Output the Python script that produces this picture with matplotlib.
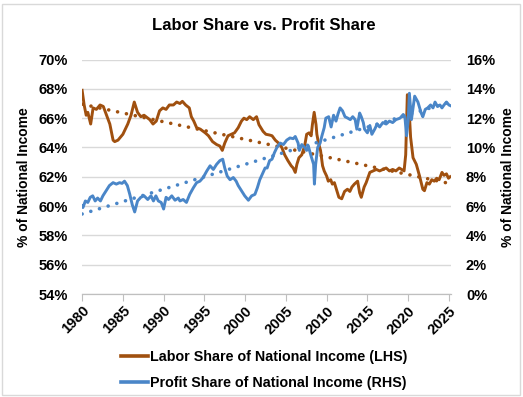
import matplotlib
matplotlib.use("Agg")
import matplotlib.pyplot as plt
import numpy as np
from matplotlib.lines import Line2D
from matplotlib.patches import Rectangle
from matplotlib.ticker import FuncFormatter

plt.rcParams["font.family"] = ["Liberation Sans", "DejaVu Sans"]
plt.rcParams["font.weight"] = "bold"

BROWN = "#A0500F"
BLUE = "#4A86C8"
GRID = "#D9D9D9"

# labor share of national income, % (left axis)
labor_years = [
    1980.0, 1980.25, 1980.5, 1980.7, 1981.05, 1981.35, 1981.75, 1982.2, 1982.6, 1983.0,
    1983.4, 1983.8, 1984.0, 1984.4, 1985.0, 1985.6, 1986.0, 1986.4, 1986.8, 1987.2,
    1987.6, 1988.3, 1988.7, 1989.1, 1989.5, 1989.9, 1990.3, 1990.7, 1991.2, 1991.6,
    1992.0, 1992.3, 1992.7, 1993.15, 1993.4, 1993.7, 1994.05, 1994.5, 1995.1, 1995.5,
    1996.0, 1996.5, 1996.9, 1997.2, 1997.5, 1997.9, 1998.3, 1998.7, 1999.15, 1999.55,
    1999.85, 2000.2, 2000.55, 2001.0, 2001.4, 2001.7, 2002.2, 2002.55, 2003.0, 2003.3,
    2003.7, 2004.1, 2004.5, 2004.85, 2005.25, 2005.65, 2005.9, 2006.15, 2006.35, 2006.6,
    2006.95, 2007.3, 2007.55, 2007.85, 2008.1, 2008.25, 2008.47, 2008.7, 2008.8, 2009.0,
    2009.25, 2009.5, 2009.7, 2010.0, 2010.2, 2010.5, 2010.7, 2010.95, 2011.2, 2011.5,
    2011.85, 2012.2, 2012.55, 2012.85, 2013.1, 2013.4, 2013.8, 2014.05, 2014.25, 2014.6,
    2014.85, 2015.3, 2015.7, 2016.1, 2016.5, 2016.9, 2017.3, 2017.7, 2018.1, 2018.5,
    2018.9, 2019.2, 2019.5, 2019.7, 2019.9, 2020.05, 2020.3, 2020.6, 2021.0, 2021.4,
    2021.8, 2022.0, 2022.3, 2022.6, 2022.9, 2023.2, 2023.5, 2023.8, 2024.15, 2024.4,
    2024.7, 2024.95, 2025.15,
]
labor_share = [
    67.9, 66.9, 66.2, 66.4, 65.6, 66.7, 66.6, 66.9, 66.8, 66.2,
    65.6, 64.5, 64.4, 64.5, 64.9, 65.6, 66.2, 67.1, 66.4, 66.1,
    66.2, 65.9, 65.6, 65.8, 66.5, 66.7, 66.6, 66.9, 66.9, 67.1,
    67.0, 67.15, 66.9, 66.7, 66.1, 65.8, 65.35, 65.25, 65.0, 64.8,
    64.4, 64.2, 64.1, 63.8, 64.3, 64.8, 64.9, 65.0, 65.35, 65.8,
    66.0, 65.9, 66.1, 65.9, 66.1, 65.55, 65.1, 64.9, 64.85, 64.8,
    64.5, 64.3, 64.0, 63.5, 63.1, 62.75, 62.6, 62.3, 62.85, 63.3,
    63.5, 64.1, 64.9, 65.0, 64.8, 65.55, 66.4, 65.55, 64.9, 64.3,
    63.8, 62.75, 62.4, 62.05, 61.7, 61.8, 61.5, 61.6, 61.15, 60.6,
    60.5, 61.0, 61.15, 61.0, 61.3, 61.5, 61.7, 60.9, 60.6, 61.3,
    61.6, 62.3, 62.4, 62.5, 62.4, 62.5, 62.6, 62.4, 62.5, 62.4,
    62.6, 62.5, 62.4, 63.5, 67.6, 67.3, 64.7, 63.3, 62.85, 62.05,
    61.15, 61.05, 61.6, 61.5, 61.8, 61.7, 61.9, 61.8, 62.3, 62.1,
    62.2, 61.9, 62.0,
]

# profit share of national income, % (right axis)
profit_years = [
    1980.0, 1980.1, 1980.4, 1980.7, 1981.0, 1981.3, 1981.6, 1981.9, 1982.25, 1982.55,
    1982.95, 1983.35, 1983.8, 1984.2, 1984.6, 1984.9, 1985.2, 1985.55, 1985.85, 1986.15,
    1986.45, 1986.8, 1987.2, 1987.6, 1988.05, 1988.45, 1988.75, 1989.05, 1989.35, 1989.7,
    1990.0, 1990.3, 1990.6, 1991.0, 1991.4, 1991.8, 1992.0, 1992.4, 1992.8, 1993.2,
    1993.65, 1994.05, 1994.45, 1994.85, 1995.3, 1995.7, 1996.1, 1996.5, 1996.9, 1997.25,
    1997.5, 1997.8, 1998.15, 1998.55, 1998.9, 1999.15, 1999.55, 1999.95, 2000.4, 2000.8,
    2001.2, 2001.5, 2001.8, 2002.2, 2002.45, 2002.7, 2003.0, 2003.3, 2003.6, 2003.9,
    2004.3, 2004.7, 2005.1, 2005.5, 2005.9, 2006.15, 2006.5, 2006.65, 2006.95, 2007.3,
    2007.55, 2007.75, 2008.1, 2008.4, 2008.5, 2008.65, 2008.9, 2009.2, 2009.4, 2009.7,
    2009.9, 2010.25, 2010.55, 2010.85, 2011.15, 2011.4, 2011.65, 2011.95, 2012.25, 2012.6,
    2012.9, 2013.2, 2013.5, 2013.7, 2014.05, 2014.25, 2014.5, 2014.65, 2015.0, 2015.3,
    2015.55, 2015.9, 2016.2, 2016.5, 2016.9, 2017.3, 2017.7, 2018.1, 2018.5, 2019.0,
    2019.4, 2019.6, 2019.8, 2020.0, 2020.15, 2020.4, 2020.8, 2021.2, 2021.6, 2021.8,
    2022.1, 2022.4, 2022.75, 2023.05, 2023.3, 2023.6, 2023.9, 2024.15, 2024.4, 2024.7,
    2025.0, 2025.2,
]
profit_share = [
    6.0, 5.9, 6.35, 6.25, 6.6, 6.7, 6.35, 6.55, 6.35, 6.7,
    7.05, 7.4, 7.6, 7.5, 7.6, 7.55, 7.7, 7.4, 6.8, 6.1,
    5.6, 6.35, 6.6, 6.7, 6.45, 6.7, 6.35, 6.7, 6.35, 6.25,
    5.8, 6.6, 6.45, 6.7, 6.4, 6.55, 6.35, 6.45, 6.25, 6.8,
    7.25, 7.6, 7.7, 7.95, 8.4, 8.75, 8.5, 8.85, 9.1, 9.2,
    8.6, 8.05, 7.8, 7.95, 7.7, 7.4, 7.05, 6.7, 6.4, 6.7,
    6.8, 7.25, 7.8, 8.3, 8.6, 8.6, 9.1, 9.2, 9.65, 10.0,
    10.3, 10.2, 10.5, 10.65, 10.6, 10.75, 10.3, 9.8, 10.2, 10.0,
    9.8, 10.1, 9.4, 8.85, 7.5, 8.85, 10.0, 10.3, 10.75, 11.35,
    12.0, 12.1, 11.4, 12.2, 11.8, 12.3, 12.7, 12.5, 12.1, 12.0,
    11.9, 12.1, 11.9, 11.25, 12.35, 12.1, 11.7, 11.25, 11.0, 11.5,
    10.9, 11.25, 11.6, 11.4, 11.7, 11.6, 11.8, 11.7, 11.9, 12.0,
    12.25, 12.1, 10.8, 11.8, 13.7, 11.9, 13.5, 13.1, 12.35, 12.1,
    12.6, 12.7, 12.9, 12.7, 13.1, 12.8, 12.9, 12.7, 12.9, 13.1,
    12.9, 12.85,
]

year_ticks = list(range(1980, 2026, 5))
left_ticks = list(range(54, 71, 2))
right_ticks = list(range(0, 17, 2))

fig = plt.figure(figsize=(5.23, 3.97), dpi=100)
ax = fig.add_axes([0.157, 0.2594, 0.706, 0.5906])
ax2 = ax.twinx()

dotted = dict(lw=2.6, linestyle=(0, (0.01, 2.5)), dash_capstyle="round")


def trend(years, values):
    # least-squares line over an even quarterly grid, like the spreadsheet trendline
    x = np.asarray(years)
    q = np.arange(x[0], x[-1], 0.25)
    coef = np.polyfit(q, np.interp(q, x, values), 1)
    return x, np.polyval(coef, x)


ax.plot(labor_years, labor_share, color=BROWN, lw=2.1, solid_joinstyle="round", zorder=3)
ax.plot(*trend(labor_years, labor_share), color=BROWN, zorder=4, **dotted)
ax2.plot(profit_years, profit_share, color=BLUE, lw=2.1, solid_joinstyle="round", zorder=3)
ax2.plot(*trend(profit_years, profit_share), color=BLUE, zorder=4, **dotted)

ax.set_xlim(1980, 2025.3)
ax.set_ylim(54, 70)
ax2.set_ylim(0, 16)
ax.set_xticks(year_ticks)
ax.set_yticks(left_ticks)
ax2.set_yticks(right_ticks)
pct = FuncFormatter(lambda v, _: f"{v:.0f}%")
ax.yaxis.set_major_formatter(pct)
ax2.yaxis.set_major_formatter(pct)

ax.grid(axis="y", color=GRID, lw=1.0)
ax.set_axisbelow(True)
for a in (ax, ax2):
    for side in ("left", "right", "top"):
        a.spines[side].set_visible(False)
    a.spines["bottom"].set_color("#BFBFBF")
    a.tick_params(axis="y", length=0, labelsize=10.5, pad=10.5)
ax.tick_params(axis="x", length=5, color="#BFBFBF", labelsize=10.5, pad=2)
for lbl in ax.get_xticklabels():
    lbl.set_rotation(45)
    lbl.set_ha("right")
    lbl.set_rotation_mode("anchor")

ax.set_ylabel("% of National Income", fontsize=10, fontweight="bold", labelpad=5)
ax2.set_ylabel("% of National Income", fontsize=10, fontweight="bold", labelpad=4)

fig.suptitle("Labor Share vs. Profit Share", x=0.505, y=0.955, fontsize=12, fontweight="bold")

handles = [
    Line2D([], [], color=BROWN, lw=2.6),
    Line2D([], [], color=BLUE, lw=2.6),
]
fig.legend(
    handles,
    ["Labor Share of National Income (LHS)", "Profit Share of National Income (RHS)"],
    loc="upper center", bbox_to_anchor=(0.505, 0.137), ncol=1, frameon=False,
    fontsize=10.3, handlelength=1.85, handletextpad=0.12, labelspacing=0.85,
    borderpad=0.0,
)

fig.patches.append(Rectangle((0.004, 0.006), 0.99, 0.984, transform=fig.transFigure,
                             fill=False, edgecolor=GRID, lw=1.0))

fig.savefig("out.png", dpi=100)
